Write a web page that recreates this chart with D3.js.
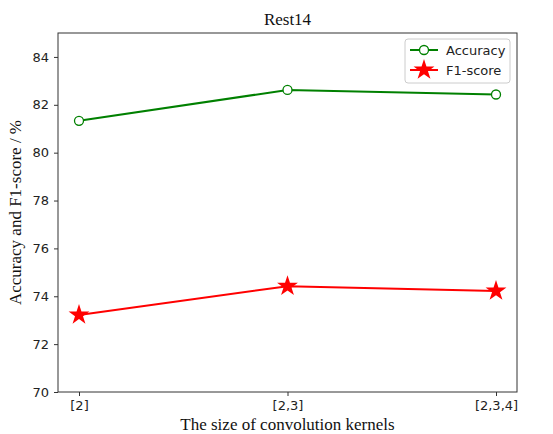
<!DOCTYPE html>
<html>
<head>
<meta charset="utf-8">
<script src="https://cdn.jsdelivr.net/npm/d3@7"></script>
<style>
  body { margin: 0; background: #fff; }
  svg { display: block; }
</style>
</head>
<body>
<svg width="553" height="434"></svg>
<script>
const categories = ["[2]", "[2,3]", "[2,3,4]"];
const accuracy = [81.33, 82.62, 82.43];
const f1 = [73.22, 74.42, 74.22];
const yTicks = [70, 72, 74, 76, 78, 80, 82, 84];

const svg = d3.select("svg");
const m = { left: 58, right: 517, top: 33, bottom: 392 };

const x = d3.scalePoint().domain(categories).range([79, 496]);
const y = d3.scaleLinear().domain([70, 85]).range([m.bottom, m.top]);

// axes
const xAxis = svg.append("g")
  .attr("transform", `translate(0,${m.bottom})`)
  .call(d3.axisBottom(x).tickSize(4).tickPadding(5));
const yAxis = svg.append("g")
  .attr("transform", `translate(${m.left},0)`)
  .call(d3.axisLeft(y).tickValues(yTicks).tickSize(4).tickPadding(5));
[xAxis, yAxis].forEach(a => {
  a.select(".domain").remove();
  a.selectAll("line").attr("stroke", "#333");
  a.selectAll("text")
    .attr("font-family", "DejaVu Sans")
    .attr("font-size", 13)
    .attr("fill", "#222");
});

// frame
svg.append("rect")
  .attr("x", m.left).attr("y", m.top)
  .attr("width", m.right - m.left).attr("height", m.bottom - m.top)
  .attr("fill", "none").attr("stroke", "#333").attr("stroke-width", 1);

const line = d3.line().x((d, i) => x(categories[i])).y(d => y(d));

svg.append("path").datum(accuracy)
  .attr("d", line).attr("fill", "none")
  .attr("stroke", "#008000").attr("stroke-width", 2);
svg.selectAll(".acc").data(accuracy).enter().append("circle")
  .attr("cx", (d, i) => x(categories[i])).attr("cy", d => y(d))
  .attr("r", 4.5).attr("fill", "#fff")
  .attr("stroke", "#008000").attr("stroke-width", 1.3);

const star = d3.symbol().type(d3.symbolStar).size(135);
svg.append("path").datum(f1)
  .attr("d", line).attr("fill", "none")
  .attr("stroke", "#ff0000").attr("stroke-width", 2);
svg.selectAll(".f1").data(f1).enter().append("path")
  .attr("d", star)
  .attr("transform", (d, i) => `translate(${x(categories[i])},${y(d)})`)
  .attr("fill", "#ff0000");

// legend
const lg = svg.append("g").attr("transform", "translate(405,39)");
lg.append("rect").attr("width", 105).attr("height", 44).attr("rx", 3)
  .attr("fill", "#fff").attr("fill-opacity", 0.8)
  .attr("stroke", "#ccc");
lg.append("line").attr("x1", 5).attr("x2", 33).attr("y1", 11).attr("y2", 11)
  .attr("stroke", "#008000").attr("stroke-width", 2);
lg.append("circle").attr("cx", 19).attr("cy", 11).attr("r", 4.5)
  .attr("fill", "#fff").attr("stroke", "#008000").attr("stroke-width", 1.3);
lg.append("line").attr("x1", 5).attr("x2", 33).attr("y1", 31).attr("y2", 31)
  .attr("stroke", "#ff0000").attr("stroke-width", 2);
lg.append("path").attr("d", star).attr("transform", "translate(19,31)")
  .attr("fill", "#ff0000");
lg.selectAll(".lt").data(["Accuracy", "F1-score"]).enter().append("text")
  .attr("x", 41).attr("y", (d, i) => 15.5 + i * 20)
  .attr("font-family", "DejaVu Sans").attr("font-size", 13).attr("fill", "#222")
  .text(d => d);

// titles
svg.append("text").attr("x", (m.left + m.right) / 2).attr("y", 25)
  .attr("text-anchor", "middle")
  .attr("font-family", "Liberation Serif").attr("font-size", 17).attr("fill", "#111")
  .text("Rest14");
svg.append("text").attr("x", (m.left + m.right) / 2).attr("y", 430)
  .attr("text-anchor", "middle")
  .attr("font-family", "Liberation Serif").attr("font-size", 17).attr("fill", "#111")
  .text("The size of convolution kernels");
svg.append("text")
  .attr("transform", `translate(21,${(m.top + m.bottom) / 2}) rotate(-90)`)
  .attr("text-anchor", "middle")
  .attr("font-family", "Liberation Serif").attr("font-size", 17).attr("fill", "#111")
  .text("Accuracy and F1-score / %");
</script>
</body>
</html>
